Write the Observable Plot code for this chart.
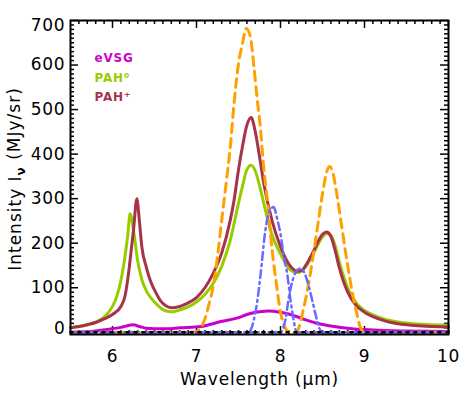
<!DOCTYPE html>
<html><head><meta charset="utf-8">
<script src="https://cdn.jsdelivr.net/npm/d3@7"></script>
<script src="https://cdn.jsdelivr.net/npm/@observablehq/plot@0.6"></script>
<style>body{margin:0;background:#fff;}</style>
</head><body><div id="chart"></div>
<script>
// PAH0 (green)
const pah0X = [5.5,5.6,5.7,5.8,5.9,6.0,6.05,6.1,6.15,6.18,6.21,6.25,6.3,6.35,6.4,6.45,6.5,6.6,6.7,6.8,6.9,7.0,7.1,7.2,7.3,7.4,7.5,7.55,7.6,7.65,7.7,7.75,7.8,7.9,8.0,8.1,8.2,8.3,8.4,8.5,8.55,8.6,8.65,8.7,8.8,8.9,9.0,9.1,9.25,9.4,9.6,9.8,10.0];
const pah0Y = [10,13,17,23,34,58,80,116,172,215,266,229,160,118,94,79,68,51,46,50,57,68,85,110,148,205,290,330,365,375,362,330,290,218,176,143,134,147,180,214,222,217,195,158,100,66,49,39,29,23,19,17,16];
// PAH+ (maroon)
const pahPX = [5.5,5.6,5.7,5.8,5.9,6.0,6.1,6.15,6.19,6.22,6.25,6.29,6.32,6.35,6.4,6.45,6.5,6.57,6.63,6.7,6.8,6.9,7.0,7.1,7.2,7.3,7.4,7.45,7.5,7.55,7.6,7.65,7.7,7.75,7.8,7.9,8.0,8.1,8.2,8.25,8.3,8.4,8.5,8.55,8.6,8.65,8.7,8.8,8.9,9.0,9.1,9.25,9.4,9.6,9.8,10.0];
const pahPY = [10,13,17,22,30,40,58,82,131,180,229,300,250,191,148,116,95,71,60,55,58,66,78,100,133,178,250,300,365,420,465,482,450,395,335,250,192,153,137,138,150,185,220,225,215,184,145,90,60,45,35,25,19,15,13,12];
// eVSG (magenta)
const evsgX = [5.5,5.8,6.0,6.1,6.2,6.25,6.3,6.4,6.5,6.65,6.8,7.05,7.29,7.52,7.6,7.75,7.86,8.0,8.12,8.3,8.46,8.6,8.85,9.0,9.25,9.5,10.0];
const evsgY = [0,3,8,11,16,17,14,9,8,8,10,13,24,34,40,46,48,45,40,28,19,14,8,6,4,3,2];
// Gaussian components (orange dashed)
const bandOX = [5.5,6.9,7.0,7.05,7.1,7.15,7.2,7.25,7.3,7.35,7.4,7.45,7.5,7.55,7.59,7.64,7.68,7.72,7.76,7.8,7.85,7.9,7.95,8.0,8.05,8.1,8.14,8.18,8.22,8.26,8.32,8.38,8.44,8.5,8.55,8.585,8.62,8.67,8.73,8.79,8.85,8.91,8.95,8.99,9.03,10.0];
const bandOY = [0,0,2,11,30,64,105,170,251,330,412,520,603,650,682,665,603,528,460,370,285,185,110,45,12,1,0,0,11,41,94,161,236,311,360,372,360,311,236,161,94,41,11,2,0,0];
// Gaussian components (blue dash-dot)
const bandB1X = [5.5,7.6,7.64,7.68,7.72,7.76,7.82,7.88,7.92,7.96,8.0,8.04,8.08,8.12,8.15,8.18,8.2,10.0];
const bandB1Y = [0,0,4,26,65,125,229,277,281,255,221,170,131,71,35,5,0,0];
const bandB2X = [5.5,8.0,8.02,8.06,8.1,8.15,8.2,8.24,8.28,8.34,8.38,8.42,8.46,8.5,10.0];
const bandB2Y = [0,0,4,30,79,120,140,143,135,101,70,38,10,0,0];
// zero line
const zeroX = [5.5,10.0];
const zeroY = [0,0];

const xMajor = [6,7,8,9,10];
const xMinor = d3.range(56,100).filter(d => d % 10 !== 0).map(d => d/10);
const yMajor = [0,100,200,300,400,500,600,700];
const yMinor = d3.range(0,701,10).filter(d => d % 100 !== 0);
const legendLabels = ["eVSG","PAH\u2070","PAH\u207A"];
const legendColors = ["#cc00cc","#99cc00","#a8324a"];
const xTitle = "Wavelength (\u03BCm)";

const W = 472, H = 393, mL = 70, mR = 24, mT = 20, mB = 59;
const pw = W - mL - mR, ph = H - mT - mB;
const tk = {stroke: "black", strokeWidth: 1.5};

const chart = Plot.plot({
  width: W, height: H,
  marginLeft: mL, marginRight: mR, marginTop: mT, marginBottom: mB,
  x: {domain: [5.5, 10]},
  y: {domain: [-5, 700]},
  style: {fontFamily: "DejaVu Sans", fontSize: "17px", background: "white", color: "black", letterSpacing: "0.8px"},
  marks: [
    Plot.tickX(xMinor, {x: d => d, insetBottom: ph - 4, ...tk}),
    Plot.tickX(xMinor, {x: d => d, insetTop: ph - 4, ...tk}),
    Plot.tickX(xMajor, {x: d => d, insetBottom: ph - 8, ...tk}),
    Plot.tickX(xMajor, {x: d => d, insetTop: ph - 8, ...tk}),
    Plot.tickY(yMinor, {y: d => d, insetRight: pw - 4, ...tk}),
    Plot.tickY(yMinor, {y: d => d, insetLeft: pw - 4, ...tk}),
    Plot.tickY(yMajor, {y: d => d, insetRight: pw - 8, ...tk}),
    Plot.tickY(yMajor, {y: d => d, insetLeft: pw - 8, ...tk}),
    Plot.line(evsgX, {x: evsgX, y: evsgY, stroke: legendColors[0], strokeWidth: 3, curve: "monotone-x"}),
    Plot.line(pah0X, {x: pah0X, y: pah0Y, stroke: legendColors[1], strokeWidth: 3, curve: "monotone-x"}),
    Plot.line(pahPX, {x: pahPX, y: pahPY, stroke: legendColors[2], strokeWidth: 3, curve: "monotone-x"}),
    Plot.line(bandOX, {x: bandOX, y: bandOY, stroke: "#ffa000", strokeWidth: 3, strokeDasharray: "9,6", curve: "monotone-x"}),
    Plot.line(bandB1X, {x: bandB1X, y: bandB1Y, stroke: "#6a6aff", strokeWidth: 2.5, strokeDasharray: "8,4,2,4", curve: "monotone-x"}),
    Plot.line(bandB2X, {x: bandB2X, y: bandB2Y, stroke: "#6a6aff", strokeWidth: 2.5, strokeDasharray: "8,4,2,4", curve: "monotone-x"}),
    Plot.line(zeroX, {x: zeroX, y: zeroY, stroke: "black", strokeWidth: 2.5, strokeDasharray: "2,6"}),
    Plot.frame({stroke: "black", strokeWidth: 2}),
    Plot.axisX(xMajor, {anchor: "bottom", tickSize: 0, tickPadding: 15, label: null}),
    Plot.axisY(yMajor.slice(1, 7), {anchor: "left", tickSize: 0, tickPadding: 5, label: null}),
    Plot.axisY([yMajor[0]], {anchor: "left", tickSize: 0, tickPadding: 5, dy: -4, label: null}),
    Plot.axisY([yMajor[7]], {anchor: "left", tickSize: 0, tickPadding: 5, dy: 5, label: null}),
    Plot.text([xTitle], {frameAnchor: "bottom", dy: 50, fontSize: 17}),
    Plot.text([legendLabels[0]], {frameAnchor: "top-left", dx: 24, dy: 33, fill: legendColors[0], textAnchor: "start", fontSize: 12, fontWeight: "bold"}),
    Plot.text([legendLabels[1]], {frameAnchor: "top-left", dx: 24, dy: 53, fill: legendColors[1], textAnchor: "start", fontSize: 12, fontWeight: "bold"}),
    Plot.text([legendLabels[2]], {frameAnchor: "top-left", dx: 24, dy: 72, fill: legendColors[2], textAnchor: "start", fontSize: 12, fontWeight: "bold"})
  ]
});

const svg = d3.select(chart);
const yt = svg.append("text")
  .attr("transform", `translate(21,${mT + ph / 2 + 2}) rotate(-90)`)
  .attr("text-anchor", "middle")
  .attr("font-family", "DejaVu Sans")
  .attr("font-size", 17)
  .attr("letter-spacing", "1px")
  .attr("fill", "black");
yt.append("tspan").text("Intensity I");
yt.append("tspan").attr("dy", "0.3em").attr("font-size", 12).attr("font-weight", "bold").text("\u03BD");
yt.append("tspan").attr("dy", "-0.3em").text(" (MJy/sr)");

document.getElementById("chart").appendChild(chart);
</script>
</body></html>
